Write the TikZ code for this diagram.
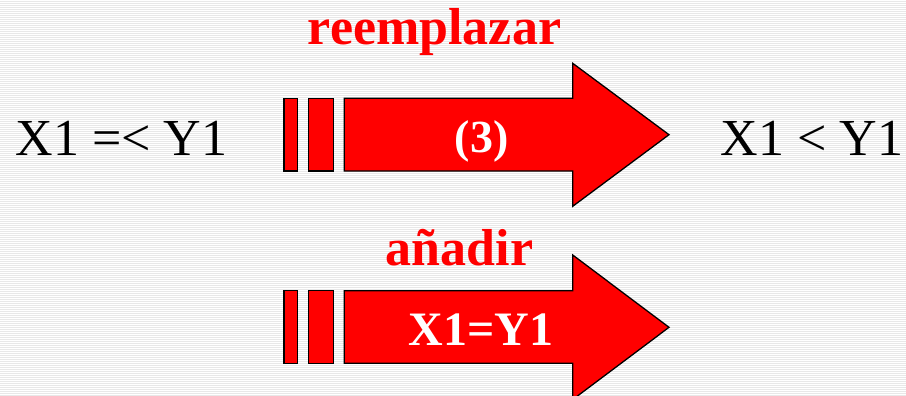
\documentclass[tikz,border=0pt]{standalone}
\usepackage{fontspec}
\setmainfont{Liberation Serif}
\definecolor{pptred}{RGB}{255,0,0}
\definecolor{stripe}{RGB}{232,232,232}
\begin{document}
\begin{tikzpicture}[x=1pt,y=-1pt,
  bar/.style={fill=pptred,draw=black,line width=1.3pt,line join=miter},
  redlabel/.style={text=pptred,font=\fontsize{52}{60}\selectfont\bfseries,inner sep=0pt,anchor=base},
  whitelabel/.style={text=white,font=\fontsize{46}{54}\selectfont\bfseries,inner sep=0pt,anchor=base},
  blacklabel/.style={text=black,font=\fontsize{52}{60}\selectfont,inner sep=0pt,anchor=base}]
\useasboundingbox (0,0) rectangle (906,396);
\fill[white] (0,0) rectangle (906,396);
\foreach \i in {1,3,...,395} {\draw[stripe,line width=0.9pt] (0,\i) -- (906,\i);}
\begin{scope}
\clip (0,0) rectangle (906,396);
% top arrow
\draw[bar] (284,98.3) rectangle (297.3,171);
\draw[bar] (308.3,98.3) rectangle (333.3,171);
\draw[bar] (344.3,98.3) -- (572.7,98.3) -- (572.7,63.3) -- (669,134.7) -- (572.7,206.3) -- (572.7,171) -- (344.3,171) -- cycle;
% bottom arrow
\draw[bar] (284,290.7) rectangle (297.3,363.3);
\draw[bar] (308.3,290.7) rectangle (333.3,363.3);
\draw[bar] (344.3,290.7) -- (572.7,290.7) -- (572.7,255) -- (669,327.3) -- (572.7,399.6) -- (572.7,363.3) -- (344.3,363.3) -- cycle;
\end{scope}
\node[redlabel] (reemp) at (434.5,45) {reemplazar};
\node[redlabel] (anadir) at (459.5,265) {añadir};
\node[whitelabel] (three) at (481.5,152) {(3)};
\node[whitelabel,font=\fontsize{48}{56}\selectfont\bfseries] (eq) at (481.3,345) {X1=Y1};
\node[blacklabel] (lhs) at (121.5,155) {X1 =< Y1};
\node[blacklabel] (rhs) at (812,155) {X1 < Y1};
\end{tikzpicture}
\end{document}
